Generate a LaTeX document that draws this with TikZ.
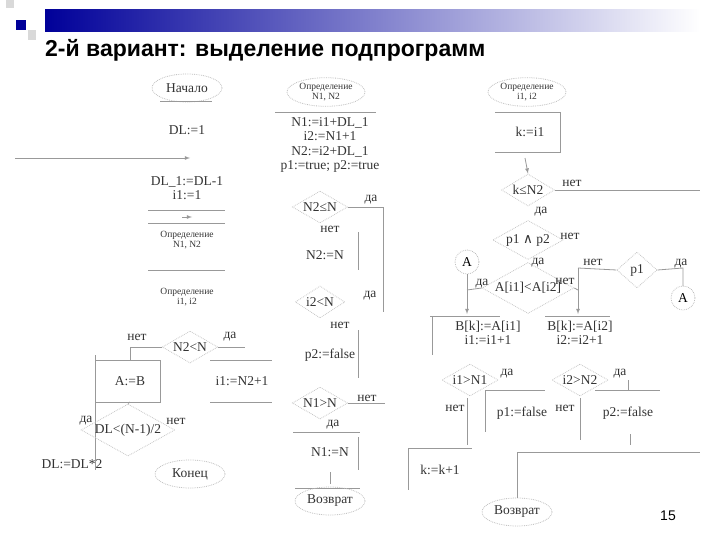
\documentclass[tikz,border=0pt]{standalone}
\usepackage{fontspec}
\setmainfont{Liberation Serif}
\newfontfamily\hd{Liberation Sans}
\newfontfamily\symfnt{DejaVu Serif}
\usetikzlibrary{shapes.geometric}
\begin{document}
\begin{tikzpicture}[x=1pt,y=-1pt,
 ln/.style={draw=gray!80,line width=0.8pt},
 tx/.style={font=\fontsize{13.5}{14.5}\selectfont,inner sep=1pt,align=center,text=black!80},
 sm/.style={font=\fontsize{9.5}{10.5}\selectfont,inner sep=1pt,align=center,text=black!80},
 term/.style={ellipse,draw=gray!50,densely dotted,line width=0.8pt,minimum width=70pt,minimum height=28pt},
 dec/.style={diamond,aspect=1.8,draw=gray!45,densely dotted,line width=0.8pt,inner sep=0pt,minimum height=32pt},
 con/.style={circle,draw=gray!50,densely dotted,line width=0.8pt,minimum size=24pt,inner sep=0pt,font=\fontsize{13.5}{14.5}\selectfont},
 arr/.style={-latex,draw=gray!80,line width=0.8pt}]
\useasboundingbox (0,0) rectangle (720,540);
\shade[left color=blue!60!black,right color=white] (45,10) rectangle (700,32);
\fill[blue!60!black] (16,20) rectangle (26,30);
\fill[gray!30] (6,0) rectangle (14,8);
\fill[gray!30] (28,30) rectangle (36,40);
\node[anchor=base west,font=\hd\bfseries\fontsize{23}{26}\selectfont,inner sep=0] (title) at (45,57) {2-й вариант: выделение подпрограмм};
% left column
\node[term,tx] (start) at (187,88) {Начало};
\draw[ln] (160,101) -- (212,101);
\node[tx] (dl) at (187,130) {DL:=1};
\coordinate (in) at (15,158);
\coordinate (ain) at (190,158);
\draw[arr] (in) -- (ain);
\node[tx] (dl1) at (187,188) {DL\_1:=DL-1\\i1:=1};
\draw[ln] (148,210) -- (225,210);
\coordinate (a1) at (192,217);
\draw[arr] (182,217) -- (a1);
\draw[ln] (148,223) -- (225,223);
\node[sm] (def1) at (187,240) {Определение\\N1, N2};
\draw[ln] (148,270) -- (225,270);
\node[sm] (def2) at (187,297) {Определение\\i1, i2};
\node[dec,tx] (d1) at (190,347) {N2<N};
\node[tx] at (137,337) {нет};
\node[tx] at (230,337) {да};
\draw[ln] (d1.west) -- (130,347) -- (130,360);
\draw[ln] (d1.east) -- (245,347);
\draw[ln] (95,360) -- (160,360) -- (160,402) -- (95,402);
\node[tx] (ab) at (130,381) {A:=B};
\draw[ln] (210,360) -- (272,360);
\draw[ln] (210,402) -- (272,402);
\node[tx] (i1n) at (242,381) {i1:=N2+1};
\draw[ln] (95,355) -- (95,470);
\node[dec,tx] (d2) at (128,430) {DL<(N-1)/2};
\draw[ln] (130,402) -- (d2.north);
\node[tx] at (86,421) {да};
\node[tx] at (176,421) {нет};
\node[tx] (dl2) at (72,464) {DL:=DL*2};
\node[term,tx] (end) at (190,474) {Конец};
% middle column
\node[term,sm,minimum width=75pt] (def3) at (326,92) {Определение\\N1, N2};
\draw[ln] (275,112) -- (376,112);
\node[tx] (blk) at (330,145) {N1:=i1+DL\_1\\i2:=N1+1\\N2:=i2+DL\_1\\p1:=true; p2:=true};
\node[dec,tx] (d3) at (320,207) {N2≤N};
\node[tx] at (371,200) {да};
\draw[ln] (d3.east) -- (383,207) -- (383,312);
\node[tx] at (330,229) {нет};
\draw[ln] (358,232) -- (358,270);
\node[tx] (n2n) at (325,255) {N2:=N};
\node[dec,tx] (d4) at (320,302) {i2<N};
\node[tx] at (370,296) {да};
\node[tx] at (340,325) {нет};
\node[tx] (p2f) at (330,355) {p2:=false};
\draw[ln] (358,330) -- (358,378);
\node[dec,tx] (d5) at (320,403) {N1>N};
\node[tx] at (367,398) {нет};
\draw[ln] (d5.east) -- (385,403);
\node[tx] at (333,425) {да};
\draw[ln] (293,432) -- (360,432);
\node[tx] (n1n) at (330,452) {N1:=N};
\draw[ln] (358,437) -- (358,470);
\draw[ln] (330,472) -- (330,484);
\draw[ln] (295,488) -- (360,488);
\node[term,tx] (ret1) at (330,501) {Возврат};
% right part
\node[term,sm,minimum width=62pt] (def4) at (527,92) {Определение\\i1, i2};
\draw[ln] (495,112) -- (560,112) -- (560,152) -- (495,152);
\node[tx] (k) at (530,132) {k:=i1};
\node[dec,tx] (d6) at (528,190) {k≤N2};
\draw[arr] (525,158) -- (d6.north);
\node[tx] at (572,183) {нет};
\draw[ln] (d6.east) -- (700,190);
\node[tx] at (541,212) {да};
\node[dec,tx] (d7) at (528,240) {p1 {\symfnt ∧} p2};
\node[tx] at (570,236) {нет};
\node[tx] at (538,263) {да};
\node[con] (ca) at (467,262) {A};
\node[dec,tx] (d8) at (528,288) {A[i1]<A[i2]};
\node[tx] at (482,284) {да};
\node[tx] at (565,281) {нет};
\draw[ln] (ca) -- (467,290);
\draw[ln] (d8.west) -- (467,290);
\draw[arr] (467,290) -- (467,314);
\draw[ln] (d8.east) -- (578,290);
\draw[arr] (578,268) -- (578,314);
\node[dec,tx,minimum height=36pt] (d9) at (637,270) {p1};
\draw[ln] (578,268) -- (d9.west);
\node[tx] at (593,262) {нет};
\node[tx] at (681,264) {да};
\draw[ln] (d9.east) -- (683,268) -- (683,286);
\node[con] (cb) at (683,298) {A};
\draw[ln] (430,316) -- (500,316);
\draw[ln] (432,316) -- (432,355);
\node[tx] (bk1) at (488,333) {B[k]:=A[i1]\\i1:=i1+1};
\draw[ln] (545,316) -- (610,316);
\node[tx] (bk2) at (580,333) {B[k]:=A[i2]\\i2:=i2+1};
\node[dec,tx] (d10) at (470,380) {i1>N1};
\node[tx] at (507,374) {да};
\node[tx] at (455,408) {нет};
\node[dec,tx] (d11) at (580,380) {i2>N2};
\node[tx] at (620,374) {да};
\node[tx] at (565,408) {нет};
\draw[ln] (485,390) -- (545,390);
\draw[ln] (485,390) -- (485,432);
\node[tx] (p1f) at (522,413) {p1:=false};
\draw[ln] (628,380) -- (628,390);
\draw[ln] (595,390) -- (660,390);
\node[tx] (p2f2) at (628,413) {p2:=false};
\draw[ln] (630,434) -- (630,445);
\draw[ln] (467,398) -- (467,445);
\draw[ln] (580,398) -- (580,440);
\draw[ln] (408,448) -- (472,448);
\draw[ln] (408,448) -- (408,490);
\node[tx] (kk) at (440,470) {k:=k+1};
\draw[ln] (517,452) -- (700,452);
\node[term,tx] (ret2) at (517,512) {Возврат};
\draw[ln] (517,452) -- (ret2.north);
\node[font=\hd\fontsize{14}{16}\selectfont] (pg) at (668,516) {15};
\end{tikzpicture}
\end{document}
